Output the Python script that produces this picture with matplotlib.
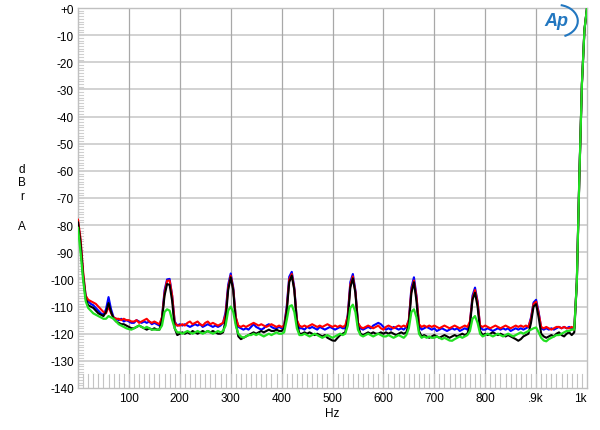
import numpy as np
import matplotlib
matplotlib.use("Agg")
import matplotlib.pyplot as plt
from matplotlib.patches import Arc

plt.rcParams['font.family'] = ['Liberation Sans', 'DejaVu Sans']

freq = np.arange(0, 1001, 5)

blue = [
 -79, -86, -98, -106, -108, -109, -109.5, -110.5, -111.5, -112.5, -113, -111, -106.5, -111, -114, -114.5, -115, -114.5, -115.5, -115,
 -115.5, -116, -116, -115, -115.5, -116, -115.5, -116, -115.5, -116.5, -116, -116.5, -117, -114, -104, -100, -99.8, -106, -115.5, -117,
 -116.5, -117, -116.5, -117, -117.5, -117, -116.5, -117, -116.5, -117.5, -117, -116.5, -117, -117.5, -117, -117.5, -117, -116, -112, -102,
 -97.8, -103, -114, -117.5, -118, -118.5, -118, -118.5, -117.5, -116.5, -117.5, -118, -118.5, -118, -117, -116.5, -117.5, -118, -118, -117.5,
 -118, -117, -110, -99, -97.2, -103, -115, -118, -118, -118.5, -117.5, -118, -117.5, -118, -118.5, -117.5, -118, -118.5, -118, -117.5,
 -118, -118.5, -118, -117.5, -118, -118, -113, -101, -98, -104, -116, -118, -118.5, -118, -117.5, -118, -117, -116.5, -116, -116.5,
 -117.5, -118.5, -118, -118.5, -117.5, -118, -118.5, -118, -118.5, -117.5, -115, -103, -99.2, -106, -117, -118.5, -118, -117.5, -118, -118.5,
 -118, -119, -118.5, -118, -118.5, -119, -118.5, -118, -118.5, -118, -119, -118.5, -118, -118.5, -116, -106, -103, -108, -117.5, -118.5,
 -118.5, -118, -118.5, -119, -118.5, -118, -118.5, -118, -118.5, -118, -119, -118.5, -118, -118.5, -118, -118.5, -118, -117.5, -114, -108.5,
 -107.5, -112, -118, -118.5, -118, -118.5, -118, -118.5, -118, -117.5, -118, -117.5, -118, -117.5, -118, -118,
 -101, -62, -28, -8, 0]

red = [
 -78, -85, -97, -106, -107.5, -108, -108.5, -109, -110, -111, -112, -112.5, -110, -112.5, -114, -114.5, -114.5, -115, -114.5, -115,
 -115, -115.5, -115.5, -115, -116, -115.5, -115, -114.5, -115.5, -116, -115.5, -116, -116.5, -114, -105, -100.5, -100.4, -106, -116, -117,
 -117, -116.5, -117, -116, -115.5, -116.5, -116, -115.5, -116.5, -117, -116, -115.5, -116.5, -116, -116.5, -117, -116.5, -116, -113, -103,
 -98.6, -103.5, -114, -117, -117.5, -117, -117.5, -117, -116.5, -116, -116.5, -117, -116.5, -117, -117.5, -117, -116.5, -117, -117.5, -117,
 -117.5, -117, -111, -100, -98, -103.5, -115, -117, -117.5, -117, -117.5, -117, -116.5, -117, -117.5, -117, -117.5, -117, -116.5, -117,
 -117.5, -117, -117.5, -117, -117.5, -117, -113.5, -102, -98.9, -104.5, -116, -117.5, -118, -117.5, -117, -117.5, -118, -117.5, -117, -118,
 -118.5, -117.5, -117, -117.5, -118, -117.5, -117, -117.5, -117, -117.5, -115, -104, -100.4, -106.5, -116.5, -117.5, -117, -117.5, -117, -117.5,
 -117, -117.5, -118, -117.5, -117, -117.5, -118, -117.5, -117, -117.5, -118, -117.5, -117, -117.5, -115.5, -107, -103.9, -108.5, -117, -117.5,
 -117, -117.5, -118, -117.5, -117, -117.5, -118, -117.5, -117, -117.5, -118, -117.5, -117, -117.5, -117, -117.5, -117, -117.5, -114.5, -109,
 -108.2, -112.5, -117.5, -118, -117.5, -118, -118.5, -118, -117.5, -117.5, -118, -117.5, -118, -118, -117.5, -118,
 -101, -62, -28, -8, 0]

black = [
 -79, -87, -99, -107, -109.5, -110, -110.5, -111.5, -112.5, -113, -113.5, -112, -108.7, -112, -114.5, -115.5, -116, -116.5, -116.5, -117,
 -117.5, -118, -118, -117.5, -117, -117.5, -118, -118.5, -118, -118.5, -118, -118.5, -118.5, -115, -106, -101.7, -102, -108, -118, -120.5,
 -120, -119.5, -120, -119.5, -120, -119, -119.5, -120, -119.5, -119, -119.5, -119, -119.5, -119, -119.5, -120, -120, -119.5, -115, -104,
 -99.2, -104, -116, -121, -122, -121.5, -121, -120.5, -120, -119.5, -120, -119.5, -119, -119.5, -119, -118.5, -119, -119, -118.5, -119,
 -119, -118, -112, -101, -98.6, -104, -116, -120, -120, -119.5, -120, -119.5, -120, -120.5, -120, -120.5, -121, -120.5, -121.5, -122,
 -122.5, -122.6, -121.5, -120.5, -120, -119.5, -115, -103, -99.6, -105, -117, -120, -120.5, -120, -119.5, -120, -119.5, -120, -120, -119.5,
 -120, -119.5, -120, -119.5, -120, -120.5, -120, -119.5, -120, -119.5, -116.5, -105, -101, -108, -119, -121, -120.5, -121, -121.5, -121,
 -120.5, -121, -121.5, -121, -120.5, -121, -121.5, -121, -120.5, -121, -120.5, -120, -120.5, -120, -117, -107.5, -104.9, -110, -119, -120.5,
 -120, -120.5, -120, -119.5, -120, -120.5, -120, -120.5, -121, -120.5, -121, -121.5, -122, -122.6, -122, -121, -120.5, -120, -116, -110,
 -109.1, -114, -120, -121, -121.5, -121, -120.5, -121, -120, -119.5, -120.5, -121, -120, -119.5, -120.5, -119.5,
 -101, -62, -28, -8, 0]

green = [
 -81, -90, -100, -108, -110.5, -111.5, -112.5, -113, -113.5, -114, -114.5, -114.5, -113.5, -114, -114.5, -115.5, -116.5, -117, -117.5, -118,
 -118.3, -118.5, -118, -117.5, -117, -117.5, -118, -117.5, -118, -118.5, -118.5, -118.5, -118.5, -117, -112, -111, -111.5, -115, -118, -119.5,
 -119.5, -120, -119.5, -119, -119.5, -120, -119.5, -119, -119.5, -120, -119.5, -119, -119.5, -120, -119.5, -119, -119.5, -119, -117, -111.5,
 -110, -112, -117, -120, -121, -121.5, -121, -120.5, -120.5, -120, -120.5, -120, -120.5, -121, -120.5, -120, -120.5, -120, -119.5, -120,
 -120, -119.5, -115, -110, -109.5, -112, -118, -120.5, -120.5, -120, -120.5, -121, -120.5, -120, -120.5, -121, -121.5, -121, -120.5, -121,
 -121.5, -121, -120.5, -120, -120.5, -120, -117, -110.5, -109.3, -112, -118.5, -120.5, -121, -120.5, -120, -120.5, -121, -120.5, -120, -120.5,
 -121, -121, -120.5, -121, -121.5, -121, -120.5, -121, -121.5, -120.5, -118, -112, -111, -114, -120, -121.5, -121, -121.5, -121, -121.5,
 -121.5, -121, -121.5, -122, -121.5, -122, -122.5, -122.6, -122, -121.5, -121, -121.5, -121, -120.5, -119, -114.5, -113.5, -116, -120, -121,
 -120.5, -120, -120.5, -121, -120.5, -120, -120.5, -121, -120.5, -120, -120.5, -121, -120.5, -120, -119.5, -120, -119.5, -119, -118.5, -118,
 -117.7, -119.5, -121.5, -122.5, -122.8, -122, -121.5, -121, -120.5, -120.5, -120, -119.5, -119, -119, -118.5, -118.5,
 -101, -62, -28, -8, 0]

xtick_vals = [100, 200, 300, 400, 500, 600, 700, 800, 900, 1000]
xtick_labels = ["100", "200", "300", "400", "500", "600", "700", "800", ".9k", "1k"]
ytick_vals = list(range(0, -141, -10))
ytick_labels = ["+0"] + [str(v) for v in ytick_vals[1:]]

fig = plt.figure(figsize=(6.0, 4.31), dpi=100)
ax = fig.add_axes([78/600, 1 - 389/431, (587-78)/600, (389-9)/431])

ax.set_xlim(0, 1000)
ax.set_ylim(-140, 0)

# grid
for v in ytick_vals[1:-1]:
    ax.axhline(v, color='#d2d2d2', lw=1.4, zorder=1)
for v in xtick_vals[:-1]:
    ax.axvline(v, color='#a8a8a8', lw=0.9, zorder=1)

# minor ticks drawn as short lines inside
for v in np.arange(-139, 0, 1):
    ax.plot([0, 10], [v, v], color='#cfcfcf', lw=0.8, zorder=1, clip_on=False)
for v in np.arange(10, 1000, 10):
    ax.plot([v, v], [-140, -134.8], color='#c4c4c4', lw=0.8, zorder=1)

ax.plot(freq, blue, color='#0000ff', lw=1.5, zorder=3)
ax.plot(freq, red, color='#ff0000', lw=1.5, zorder=4)
ax.plot(freq, black, color='#000000', lw=1.5, zorder=5)
ax.plot(freq, green, color='#22e022', lw=1.6, zorder=6)

ax.set_xticks(xtick_vals)
ax.set_xticklabels(xtick_labels, fontsize=8.5)
ax.set_yticks(ytick_vals)
ax.set_yticklabels(ytick_labels, fontsize=8.5)
ax.tick_params(axis='both', length=0, pad=3)
ax.tick_params(axis='x', pad=3)
xl = ax.get_xticklabels()
xl[-1].set_horizontalalignment('right')
xl[-1].set_x(1000)

for s in ax.spines.values():
    s.set_color('#c0c0c0')
    s.set_linewidth(1.0)

ax.set_xlabel("Hz", fontsize=8.5, labelpad=2)

# dBr A vertical label
for ch, y in [("d", 170), ("B", 183), ("r", 197), ("A", 227)]:
    fig.text(22/600, 1 - y/431, ch, fontsize=8.5, ha='center', va='center')

# Ap logo
fig.text(556/600, 1 - 22/431, "Ap", fontsize=13, fontstyle='italic', fontweight='bold',
         color='#2277c0', ha='center', va='center')
arc = Arc((0.928, 1 - 22/431), 0.07, 0.075, theta1=-70, theta2=80,
          transform=fig.transFigure, color='#2277c0', lw=1.5)
fig.add_artist(arc)

fig.savefig("out.png", dpi=100)
